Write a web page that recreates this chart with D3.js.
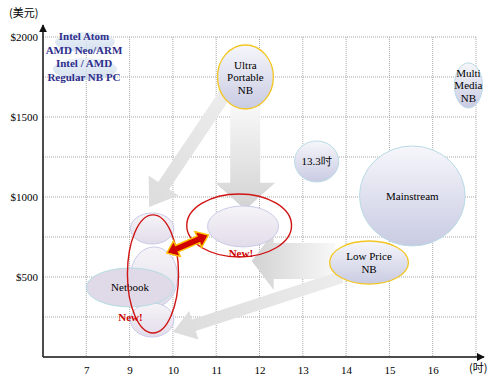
<!DOCTYPE html>
<html>
<head>
<meta charset="utf-8">
<script src="https://cdn.jsdelivr.net/npm/d3@7"></script>
<style>
  body { margin: 0; background: #fff; }
  svg { display: block; }
</style>
</head>
<body>
<div id="chart"></div>
<script>
// axis ticks
const xTicks = [7, 9, 10, 11, 12, 13, 14, 15, 16];
const yTicks = [500, 1000, 1500, 2000];
const yGrid = [250, 500, 750, 1000, 1250, 1500, 1750, 2000];

// bubbles: extent in inches / US$
const bubbleNames = ["Ultra\nPortable\nNB", "13.3吋", "Mainstream", "Low Price\nNB", "Multi\nMedia\nNB"];
const bubbleX = [[11.03, 12.32], [12.81, 13.83], [14.31, 16.75], [13.62, 15.44], [16.5, 17.15]];
const bubbleY = [[1550, 1950], [1094, 1350], [694, 1319], [456, 725], [1556, 1838]];
const bubbleGold = [true, false, false, true, false];

// netbook group (stacked ellipses)
const netX = [[9.02, 10.02], [9.02, 10.11], [9.02, 10.02]];
const netY = [[706, 900], [313, 688], [125, 338]];
const netbookX = [7.0, 10.02];
const netbookY = [313, 556];

// new segment in the middle
const centerX = [10.8, 12.44];
const centerY = [688, 944];

// red rings
const ringX = [[8.9, 10.13], [10.32, 12.74]];
const ringY = [[150, 888], [625, 1019]];

// grey migration arrows: [from, to] in inches / US$
const arrows = [
  { from: [11.67, 1570], to: [11.67, 920], shaft: 30, head: 60, len: 27, dir: "v" },
  { from: [11.2, 1640], to: [9.45, 937], shaft: 13, head: 36, len: 26, dir: "d" },
  { from: [13.75, 600], to: [11.82, 600], shaft: 36, head: 58, len: 22, dir: "h" },
  { from: [13.9, 500], to: [10.0, 156], shaft: 12, head: 30, len: 22, dir: "d" }
];
const redArrow = { from: [9.86, 650], to: [10.82, 762] };

const legendLines = ["Intel Atom", "AMD Neo/ARM", "Intel / AMD", "Regular NB PC"];

const width = 499, height = 382;
const mLeft = 43, mRight = 476, mTop = 37, mBottom = 357;

const slots = d3.scalePoint().domain(d3.range(11)).range([mLeft, mRight]);
const x = d3.scaleLinear()
  .domain([5, ...xTicks, 17])
  .range(d3.range(11).map(i => slots(i)));
const y = d3.scaleLinear().domain([0, 2000]).range([mBottom, mTop]);

const svg = d3.select("#chart").append("svg")
  .attr("width", width).attr("height", height)
  .style("font-family", "'Liberation Serif', 'DejaVu Serif', serif");

const defs = svg.append("defs");

function vGrad(id, c0, c1) {
  const g = defs.append("linearGradient").attr("id", id)
    .attr("x1", 0).attr("y1", 0).attr("x2", 0).attr("y2", 1);
  g.append("stop").attr("offset", "0%").attr("stop-color", c0);
  g.append("stop").attr("offset", "100%").attr("stop-color", c1);
}
vGrad("bub", "#f6f6fb", "#c9cbe2");
vGrad("net", "#f6f4f8", "#e2dcea");
vGrad("cloud", "#e6eef7", "#c9d9ea");

defs.append("marker").attr("id", "ah")
  .attr("viewBox", "0 0 10 10").attr("refX", 9).attr("refY", 5)
  .attr("markerWidth", 8).attr("markerHeight", 8)
  .attr("markerUnits", "userSpaceOnUse")
  .attr("orient", "auto")
  .append("path").attr("d", "M0,0L10,5L0,10Z").attr("fill", "#111");

// grid
svg.append("g").selectAll("line").data(yGrid).join("line")
  .attr("x1", mLeft).attr("x2", mRight)
  .attr("y1", d => y(d)).attr("y2", d => y(d))
  .attr("stroke", "#a8a8a8").attr("stroke-dasharray", "1,1");
svg.append("g").selectAll("line").data([...xTicks, 17]).join("line")
  .attr("x1", d => x(d)).attr("x2", d => x(d))
  .attr("y1", mTop).attr("y2", mBottom)
  .attr("stroke", "#a8a8a8").attr("stroke-dasharray", "1,1");

// legend clouds + text
svg.append("ellipse").attr("cx", 85).attr("cy", 42).attr("rx", 30).attr("ry", 10)
  .attr("fill", "url(#cloud)").attr("opacity", 0.8);
svg.append("ellipse").attr("cx", 85).attr("cy", 69).attr("rx", 32).attr("ry", 11)
  .attr("fill", "url(#cloud)").attr("opacity", 0.8);
svg.append("g").selectAll("text").data(legendLines).join("text")
  .attr("x", 84).attr("y", (d, i) => 40 + i * 13.7)
  .attr("text-anchor", "middle")
  .attr("font-size", 11).attr("font-weight", "bold")
  .attr("fill", "#2e2e8c").text(d => d);

// grey arrows
function arrowPath(p0, p1, sw, hw, hl) {
  const dx = p1[0] - p0[0], dy = p1[1] - p0[1];
  const L = Math.hypot(dx, dy), ux = dx / L, uy = dy / L, nx = -uy, ny = ux;
  const b = [p1[0] - ux * hl, p1[1] - uy * hl];
  const pt = (p, s) => [p[0] + nx * s, p[1] + ny * s];
  const pts = [pt(p0, sw / 2), pt(b, sw / 2), pt(b, hw / 2), p1, pt(b, -hw / 2), pt(b, -sw / 2), pt(p0, -sw / 2)];
  return "M" + pts.map(p => p.join(",")).join("L") + "Z";
}

arrows.forEach((a, i) => {
  const p0 = [x(a.from[0]), y(a.from[1])], p1 = [x(a.to[0]), y(a.to[1])];
  const g = defs.append("linearGradient").attr("id", "ag" + i)
    .attr("gradientUnits", "userSpaceOnUse")
    .attr("x1", p0[0]).attr("y1", p0[1]).attr("x2", p1[0]).attr("y2", p1[1]);
  g.append("stop").attr("offset", "0%").attr("stop-color", a.dir === "d" ? "#ececec" : "#f8f8f8");
  g.append("stop").attr("offset", "100%").attr("stop-color", a.dir === "d" ? "#dcdcdc" : "#d2d2d2");
  svg.append("path").attr("d", arrowPath(p0, p1, a.shaft, a.head, a.len))
    .attr("fill", `url(#ag${i})`);
});

// ellipse helper from data extent
function ell(sel, xr, yr) {
  return sel.append("ellipse")
    .attr("cx", (x(xr[0]) + x(xr[1])) / 2)
    .attr("cy", (y(yr[0]) + y(yr[1])) / 2)
    .attr("rx", Math.abs(x(xr[1]) - x(xr[0])) / 2)
    .attr("ry", Math.abs(y(yr[1]) - y(yr[0])) / 2);
}

// netbook group
netX.forEach((xr, i) => {
  ell(svg, xr, netY[i]).attr("fill", "url(#net)").attr("stroke", "#c8cbe8").attr("stroke-width", 1);
});
ell(svg, netbookX, netbookY).attr("fill", "#e0d9e8").attr("stroke", "#b4dde2").attr("stroke-width", 1);

// center segment
ell(svg, centerX, centerY).attr("fill", "url(#net)").attr("stroke", "#c8cbe8").attr("stroke-width", 1);

// bubbles
bubbleNames.forEach((name, i) => {
  ell(svg, bubbleX[i], bubbleY[i])
    .attr("fill", "url(#bub)")
    .attr("stroke", bubbleGold[i] ? "#f3c623" : "#b9dbe6")
    .attr("stroke-width", bubbleGold[i] ? 1.3 : 1);
  const cx = (x(bubbleX[i][0]) + x(bubbleX[i][1])) / 2;
  const cy = (y(bubbleY[i][0]) + y(bubbleY[i][1])) / 2;
  const lines = name.split("\n");
  const lh = 12.5;
  svg.append("g").selectAll("text").data(lines).join("text")
    .attr("x", cx)
    .attr("y", (d, j) => cy + (j - (lines.length - 1) / 2) * lh + 4)
    .attr("text-anchor", "middle").attr("font-size", 11).attr("fill", "#000")
    .text(d => d);
});

// netbook label
svg.append("text")
  .attr("x", (x(netbookX[0]) + x(netbookX[1])) / 2)
  .attr("y", (y(netbookY[0]) + y(netbookY[1])) / 2 + 4)
  .attr("text-anchor", "middle").attr("font-size", 11).text("Netbook");

// red rings
ringX.forEach((xr, i) => {
  ell(svg, xr, ringY[i]).attr("fill", "none").attr("stroke", "#d01414").attr("stroke-width", 1.4);
});

// "New!" labels
svg.append("text").attr("x", x(9.02)).attr("y", y(250) + 4)
  .attr("text-anchor", "middle").attr("font-size", 11).attr("font-weight", "bold")
  .attr("fill", "#cc0000").text("New!");
svg.append("text").attr("x", x(11.57)).attr("y", y(650) + 4)
  .attr("text-anchor", "middle").attr("font-size", 11).attr("font-weight", "bold")
  .attr("fill", "#cc0000").text("New!");

// red double arrow
{
  const p0 = [x(redArrow.from[0]), y(redArrow.from[1])];
  const p1 = [x(redArrow.to[0]), y(redArrow.to[1])];
  const dx = p1[0] - p0[0], dy = p1[1] - p0[1];
  const L = Math.hypot(dx, dy), ux = dx / L, uy = dy / L, nx = -uy, ny = ux;
  const sw = 7, hw = 17, hl = 11;
  const a = [p0[0] + ux * hl, p0[1] + uy * hl], b = [p1[0] - ux * hl, p1[1] - uy * hl];
  const pt = (p, s) => [p[0] + nx * s, p[1] + ny * s];
  const pts = [p0, pt(a, hw / 2), pt(a, sw / 2), pt(b, sw / 2), pt(b, hw / 2), p1,
    pt(b, -hw / 2), pt(b, -sw / 2), pt(a, -sw / 2), pt(a, -hw / 2)];
  svg.append("path").attr("d", "M" + pts.map(p => p.join(",")).join("L") + "Z")
    .attr("fill", "#d00000").attr("stroke", "#ffc000").attr("stroke-width", 1.5)
    .attr("stroke-linejoin", "miter");
}

// axes
svg.append("line").attr("x1", mLeft).attr("y1", mBottom).attr("x2", 484).attr("y2", mBottom)
  .attr("stroke", "#111").attr("stroke-width", 1.5).attr("marker-end", "url(#ah)");
svg.append("line").attr("x1", mLeft).attr("y1", mBottom).attr("x2", mLeft).attr("y2", 25)
  .attr("stroke", "#111").attr("stroke-width", 1.5).attr("marker-end", "url(#ah)");

svg.append("g").attr("transform", `translate(0,${mBottom})`)
  .call(d3.axisBottom(x).tickValues(xTicks).tickSize(0).tickPadding(9).tickFormat(d => d))
  .call(g => g.select(".domain").remove())
  .call(g => g.selectAll("text").attr("font-size", 11).attr("fill", "#000")
    .attr("font-family", "'Liberation Serif', serif"));

svg.append("g").attr("transform", `translate(${mLeft},0)`)
  .call(d3.axisLeft(y).tickValues(yTicks).tickSize(0).tickPadding(5).tickFormat(d => "$" + d))
  .call(g => g.select(".domain").remove())
  .call(g => g.selectAll("text").attr("font-size", 11).attr("fill", "#000")
    .attr("font-family", "'Liberation Serif', serif"));

svg.append("text").attr("x", 9).attr("y", 17).attr("font-size", 11)
  .attr("font-family", "'Noto Sans CJK TC', sans-serif").text("(美元)");
svg.append("text").attr("x", 469).attr("y", 372).attr("font-size", 11)
  .attr("font-family", "'Noto Sans CJK TC', sans-serif").text("(吋)");
</script>
</body>
</html>
